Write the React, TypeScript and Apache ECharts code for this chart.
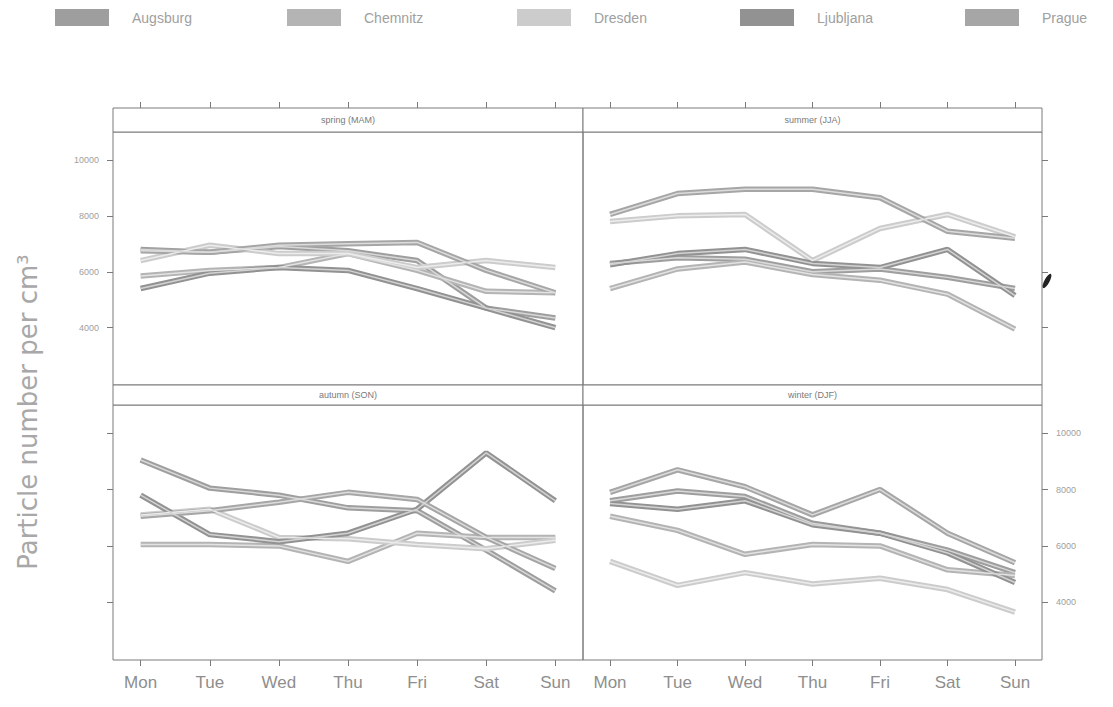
import React, { useEffect, useRef } from "react";
import * as echarts from "echarts";

const days = ["Mon", "Tue", "Wed", "Thu", "Fri", "Sat", "Sun"];
const dayPositions = [1, 2, 3, 4, 5, 6, 7];
const cities = ["Augsburg", "Chemnitz", "Dresden", "Ljubljana", "Prague"];
const seasons = ["spring (MAM)", "summer (JJA)", "autumn (SON)", "winter (DJF)"];
const yTicks = [4000, 6000, 8000, 10000];

// spring (MAM)
const springAugsburg = [6800, 6700, 6900, 6750, 6400, 4700, 4350];
const springChemnitz = [5850, 6050, 6150, 6650, 6050, 5300, 5250];
const springDresden = [6400, 6950, 6650, 6650, 6150, 6400, 6150];
const springLjubljana = [5400, 5950, 6150, 6050, 5400, 4700, 4000];
const springPrague = [6750, 6700, 6950, 7000, 7050, 6050, 5250];

// summer (JJA)
const summerAugsburg = [6300, 6500, 6450, 6000, 6100, 5800, 5400];
const summerChemnitz = [5400, 6100, 6350, 5900, 5700, 5200, 3950];
const summerDresden = [7800, 8000, 8050, 6400, 7550, 8050, 7250];
const summerLjubljana = [6250, 6650, 6800, 6300, 6150, 6800, 5150];
const summerPrague = [8050, 8800, 8950, 8950, 8650, 7450, 7200];

// autumn (SON)
const autumnAugsburg = [9050, 8050, 7800, 7350, 7250, 5850, 4400];
const autumnChemnitz = [6050, 6050, 6000, 5450, 6450, 6300, 6300];
const autumnDresden = [7100, 7300, 6300, 6250, 6050, 5900, 6200];
const autumnLjubljana = [7800, 6400, 6150, 6450, 7300, 9300, 7600];
const autumnPrague = [7050, 7250, 7550, 7900, 7650, 6300, 5200];

// winter (DJF)
const winterAugsburg = [7600, 7950, 7750, 6800, 6450, 5850, 5050];
const winterChemnitz = [7050, 6550, 5700, 6050, 6000, 5150, 4950];
const winterDresden = [5450, 4600, 5050, 4650, 4850, 4450, 3650];
const winterLjubljana = [7500, 7300, 7600, 6750, 6450, 5750, 4700];
const winterPrague = [7900, 8700, 8100, 7100, 8000, 6450, 5400];

const seasonData = [
  [springAugsburg, springChemnitz, springDresden, springLjubljana, springPrague],
  [summerAugsburg, summerChemnitz, summerDresden, summerLjubljana, summerPrague],
  [autumnAugsburg, autumnChemnitz, autumnDresden, autumnLjubljana, autumnPrague],
  [winterAugsburg, winterChemnitz, winterDresden, winterLjubljana, winterPrague],
];

const cityColors = ["#9e9e9e", "#b4b4b4", "#cccccc", "#929292", "#a6a6a6"];
const coreColors = ["#d8d8d8", "#e2e2e2", "#ececec", "#d2d2d2", "#dcdcdc"];

const panels = [
  { left: 113, top: 132, width: 470, height: 253, stripTop: 108, stripH: 24 },
  { left: 583, top: 132, width: 459, height: 253, stripTop: 108, stripH: 24 },
  { left: 113, top: 405, width: 470, height: 255, stripTop: 385, stripH: 20 },
  { left: 583, top: 405, width: 459, height: 255, stripTop: 385, stripH: 20 },
];

const legendLefts = [50, 282, 512, 735, 960];

export default function App() {
  const ref = useRef<HTMLDivElement>(null);

  useEffect(() => {
    if (!ref.current) return;
    const chart = echarts.init(ref.current, null, { renderer: "svg" });
    const axisColor = "#7a7a7a";
    const font = "'Liberation Sans', Arial, sans-serif";

    const grids = panels.map((p) => ({
      left: p.left,
      top: p.top,
      width: p.width,
      height: p.height,
      show: true,
      borderColor: axisColor,
      borderWidth: 1,
      backgroundColor: "transparent",
    }));

    const xAxes = panels.map((p, i) => {
      const isBottom = i >= 2;
      return {
        type: "value",
        gridIndex: i,
        min: 0.6,
        max: 7.4,
        position: isBottom ? "bottom" : "top",
        offset: isBottom ? 0 : 24,
        axisLine: { show: false },
        splitLine: { show: false },
        axisTick: {
          show: true,
          inside: false,
          length: 6,
          customValues: dayPositions,
          lineStyle: { color: axisColor },
        },
        axisLabel: {
          show: isBottom,
          customValues: dayPositions,
          formatter: (v: number) => days[Math.round(v) - 1] || "",
          fontSize: 17,
          color: "#8e8e8e",
          fontFamily: font,
          margin: 14,
        },
      };
    });

    const yAxes = panels.map((p, i) => {
      const isLeft = i === 0 || i === 2;
      const showLabel = i === 0 || i === 3;
      return {
        type: "value",
        gridIndex: i,
        min: 1950,
        max: 11000,
        position: isLeft ? "left" : "right",
        axisLine: { show: false },
        splitLine: { show: false },
        axisTick: {
          show: true,
          inside: false,
          length: 6,
          customValues: yTicks,
          lineStyle: { color: axisColor },
        },
        axisLabel: {
          show: showLabel,
          customValues: yTicks,
          formatter: (v: number) => String(v),
          fontSize: 9,
          color: "#a0a0a0",
          fontFamily: font,
          margin: 14,
        },
      };
    });

    const series: any[] = [];
    seasonData.forEach((cityArrays, s) => {
      cityArrays.forEach((vals, c) => {
        const data = vals.map((v, k) => [dayPositions[k], v]);
        series.push({
          name: cities[c],
          type: "line",
          xAxisIndex: s,
          yAxisIndex: s,
          data,
          showSymbol: false,
          symbol: "none",
          color: cityColors[c],
          lineStyle: { width: 5.5, color: cityColors[c] },
          z: 2,
        });
        series.push({
          name: cities[c] + " core",
          type: "line",
          xAxisIndex: s,
          yAxisIndex: s,
          data,
          showSymbol: false,
          symbol: "none",
          color: coreColors[c],
          lineStyle: { width: 1.5, color: coreColors[c] },
          z: 3,
          silent: true,
        });
      });
    });

    const legends = cities.map((name, i) => ({
      data: [name],
      left: legendLefts[i],
      top: 4,
      icon: "rect",
      itemWidth: 54,
      itemHeight: 17,
      selectedMode: false,
      textStyle: {
        color: "#a0a0a0",
        fontSize: 14,
        fontFamily: font,
        padding: [0, 0, 0, 18],
      },
    }));

    const graphics: any[] = [];
    panels.forEach((p, i) => {
      graphics.push({
        type: "rect",
        shape: { x: p.left, y: p.stripTop, width: p.width, height: p.stripH },
        style: { fill: "#ffffff", stroke: axisColor, lineWidth: 1 },
        z: 10,
      });
      graphics.push({
        type: "text",
        x: p.left + p.width / 2,
        y: p.stripTop + p.stripH / 2,
        style: {
          text: seasons[i],
          fill: "#7a7a7a",
          fontSize: 9,
          fontFamily: font,
          align: "center",
          verticalAlign: "middle",
        },
        z: 11,
      });
    });
    graphics.push({
      type: "text",
      x: 28,
      y: 412,
      rotation: Math.PI / 2,
      style: {
        text: "Particle number per cm³",
        fill: "#a8a8a8",
        fontSize: 26,
        fontFamily: "'DejaVu Sans', sans-serif",
        align: "center",
        verticalAlign: "middle",
      },
    });
    graphics.push({
      type: "ellipse",
      x: 1047,
      y: 281,
      rotation: -0.5,
      shape: { cx: 0, cy: 0, rx: 2.5, ry: 8 },
      style: { fill: "#222222" },
    });

    chart.setOption({
      animation: false,
      backgroundColor: "#ffffff",
      legend: legends,
      grid: grids,
      xAxis: xAxes,
      yAxis: yAxes,
      series,
      graphic: graphics,
    });

    return () => chart.dispose();
  }, []);

  return (
    <div
      ref={ref}
      style={{ position: "fixed", left: 0, top: 0, width: 1113, height: 707 }}
    />
  );
}
